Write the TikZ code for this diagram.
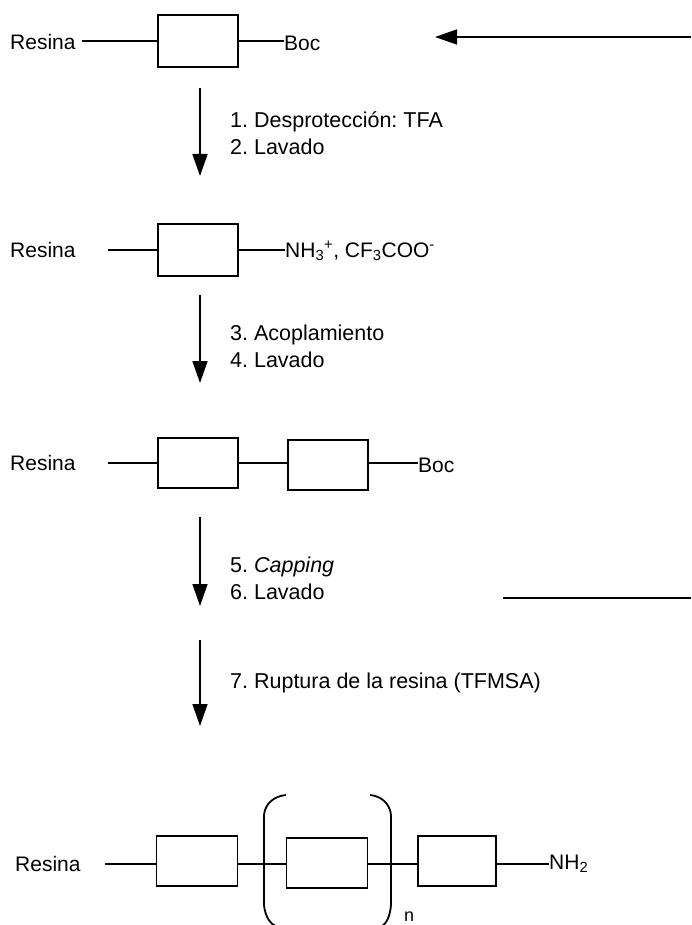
\documentclass[tikz,border=0pt]{standalone}
\usepackage{fontspec}
\setmainfont{Liberation Sans}
\usetikzlibrary{arrows.meta}
\frenchspacing
\begin{document}
\begin{tikzpicture}[x=1pt,y=-1pt,
  unit/.style={draw,line width=1.6pt,minimum width=80pt,minimum height=52pt,inner sep=0pt},
  bond/.style={line width=1.6pt},
  lbl/.style={font=\fontsize{21}{25}\selectfont,inner sep=0pt},
  steplbl/.style={font=\fontsize{21.5}{27}\selectfont,inner sep=0pt,anchor=north west,align=left},
  rxn/.style={line width=1.6pt,-{Triangle[width=15pt,length=22pt]}},
  brk/.style={line width=1.8pt}]
\useasboundingbox (0,0) rectangle (691,925);
% Row 1
\node[lbl,anchor=west] (r1) at (10,42) {Resina};
\node[unit] (b1) at (198,41) {};
\node[lbl,anchor=west] (boc1) at (284,43) {Boc};
\coordinate (r1e) at (82,41);
\draw[bond] (r1e) -- (b1.west);
\draw[bond] (b1.east) -- (boc1.west |- b1.east);
% top right arrow
\coordinate (ta) at (691,37);
\coordinate (tb) at (435,37);
\draw[rxn] (ta) -- (tb);
% Arrow 1
\coordinate (a1s) at (200,88);
\coordinate (a1e) at (200,176);
\draw[rxn] (a1s) -- (a1e);
\node[steplbl] (t1) at (230,111) {1. Desprotección: TFA\\2. Lavado};
% Row 2
\node[lbl,anchor=west] (r2) at (10,250) {Resina};
\node[unit] (b2) at (198,250) {};
\node[lbl,anchor=west] (nh3) at (285,251) {NH\textsubscript{3}\textsuperscript{+}, CF\textsubscript{3}COO\textsuperscript{-}};
\coordinate (r2e) at (108,250);
\draw[bond] (r2e) -- (b2.west);
\draw[bond] (b2.east) -- (nh3.west |- b2.east);
% Arrow 2
\coordinate (a2s) at (200,295);
\coordinate (a2e) at (200,383);
\draw[rxn] (a2s) -- (a2e);
\node[steplbl] (t2) at (230,325) {3. Acoplamiento\\4. Lavado};
% Row 3
\node[lbl,anchor=west] (r3) at (10,463) {Resina};
\node[unit,minimum height=50pt] (b3a) at (198,463) {};
\node[unit,minimum height=50pt] (b3b) at (328,465) {};
\node[lbl,anchor=west] (boc3) at (418,465) {Boc};
\coordinate (r3e) at (108,463);
\draw[bond] (r3e) -- (b3a.west);
\draw[bond] (b3a.east) -- (b3b.west |- b3a.east);
\draw[bond] (b3b.east |- b3a.east) -- (boc3.west |- b3a.east);
% Arrow 3
\coordinate (a3s) at (200,517);
\coordinate (a3e) at (200,606);
\draw[rxn] (a3s) -- (a3e);
\node[steplbl] (t3) at (230,557) {5. \textit{Capping}\\6. Lavado};
\coordinate (ha) at (503,598);
\coordinate (hb) at (691,598);
\draw[bond] (ha) -- (hb);
% Arrow 4
\coordinate (a4s) at (200,640);
\coordinate (a4e) at (200,726);
\draw[rxn] (a4s) -- (a4e);
\node[lbl,anchor=west,font=\fontsize{21.5}{27}\selectfont] (t4) at (230,683) {7. Ruptura de la resina (TFMSA)};
% Row 5
\node[lbl,anchor=west] (r5) at (15,864) {Resina};
\node[unit,minimum width=81pt,minimum height=50pt] (b5a) at (197,861) {};
\node[unit,minimum width=81pt,minimum height=50pt] (b5b) at (327,863) {};
\node[unit,minimum width=78pt,minimum height=50pt] (b5c) at (457,861) {};
\node[lbl,anchor=west] (nh2) at (549,864) {NH\textsubscript{2}};
\coordinate (r5e) at (105,864);
\draw[bond] (r5e) -- (b5a.west |- r5e);
\draw[bond] (b5a.east |- r5e) -- (b5b.west |- r5e);
\draw[bond] (b5b.east |- r5e) -- (b5c.west |- r5e);
\draw[bond] (b5c.east |- r5e) -- (nh2.west |- r5e);
% brackets
\draw[brk] (286,795) to[out=185,in=85] (264,815) -- (264,905) to[out=-85,in=175] (282,928);
\draw[brk] (370,795) to[out=-5,in=95] (391,815) -- (391,905) to[out=-95,in=5] (376,928);
\node[lbl,anchor=north west,font=\fontsize{18}{20}\selectfont] (n) at (404,912) {n};
\end{tikzpicture}
\end{document}
